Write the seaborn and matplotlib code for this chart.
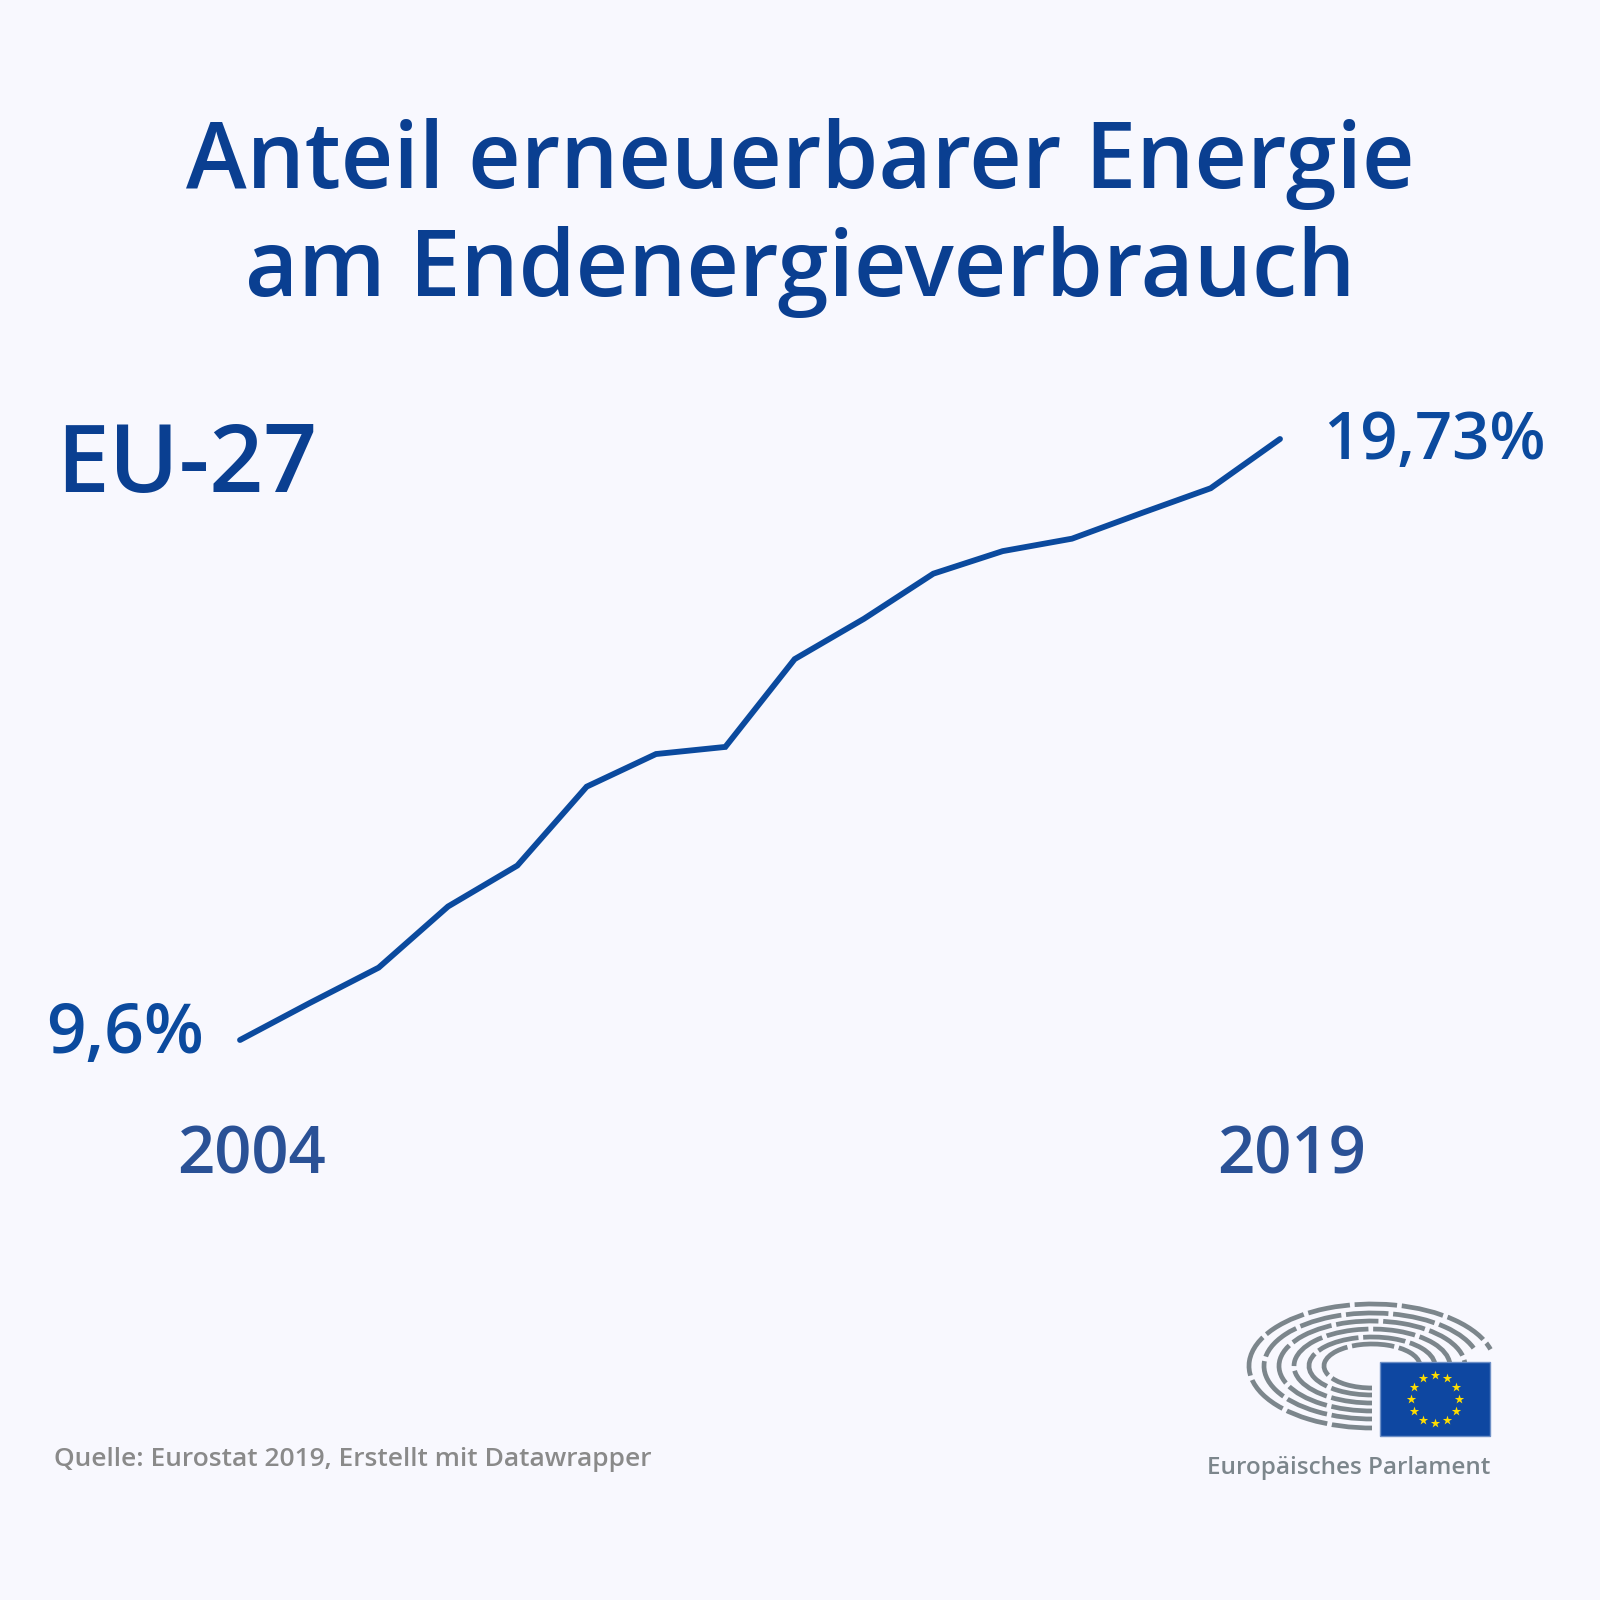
import numpy as np
import pandas as pd
import matplotlib
matplotlib.use('Agg')
import matplotlib.pyplot as plt
from matplotlib.patches import Arc, Rectangle
import seaborn as sns

# data
years = [2004, 2005, 2006, 2007, 2008, 2009, 2010, 2011,
         2012, 2013, 2014, 2015, 2016, 2017, 2018, 2019]
share = [9.6, 10.22, 10.82, 11.85, 12.54, 13.87, 14.42, 14.54,
         16.02, 16.70, 17.46, 17.84, 18.05, 18.48, 18.90, 19.73]
first_label = '9,6%'
last_label = '19,73%'
title_lines = ['Anteil erneuerbarer Energie', 'am Endenergieverbrauch']
region = 'EU-27'
source = 'Quelle: Eurostat 2019, Erstellt mit Datawrapper'
brand = 'Europäisches Parlament'

df = pd.DataFrame({'year': years, 'share': share})

bg = '#f8f8fe'
blue = '#0b4a9e'
title_blue = '#0a3f91'
year_blue = '#2a5196'
grey = '#8a8a8a'
logo_grey = '#7c868c'

sns.set_theme(style='white')
plt.rcParams['font.family'] = ['Open Sans', 'DejaVu Sans']

W = 1600
fig = plt.figure(figsize=(16, 16), dpi=100, facecolor=bg)


def fx(x):
    return x / W


def fy(y):
    return 1 - y / W


# main line axes: 2004 at x=240, 2019 at x=1280; 9.6 at y=1040, 19.73 at y=439
ax = fig.add_axes([fx(240), fy(1040), fx(1280 - 240), (1040 - 439) / W])
ax.set_facecolor('none')
sns.lineplot(data=df, x='year', y='share', ax=ax, color=blue, linewidth=4.2,
             solid_capstyle='round', solid_joinstyle='miter', clip_on=False)
ax.set_xlim(2004, 2019)
ax.set_ylim(9.6, 19.73)
ax.axis('off')

# titles
fw = 600
fig.text(fx(800), fy(188), title_lines[0], ha='center', va='baseline',
         fontsize=66, color=title_blue, fontweight=fw)
fig.text(fx(800), fy(296), title_lines[1], ha='center', va='baseline',
         fontsize=66, color=title_blue, fontweight=fw)
fig.text(fx(56), fy(492), region, ha='left', va='baseline',
         fontsize=68, color=title_blue, fontweight=fw)

# end labels
fig.text(fx(1323), fy(459), last_label, ha='left', va='baseline',
         fontsize=47, color=blue, fontweight=fw)
fig.text(fx(204), fy(1053), first_label, ha='right', va='baseline',
         fontsize=50, color=blue, fontweight=fw)
fig.text(fx(252), fy(1173), str(years[0]), ha='center', va='baseline',
         fontsize=47, color=year_blue, fontweight=fw)
fig.text(fx(1292), fy(1173), str(years[-1]), ha='center', va='baseline',
         fontsize=47, color=year_blue, fontweight=fw)

# footer
fig.text(fx(54), fy(1466), source, ha='left', va='baseline',
         fontsize=19, color=grey, fontweight=fw)
fig.text(fx(1490), fy(1474), brand, ha='right', va='baseline',
         fontsize=17.5, color=logo_grey, fontweight=fw)

# logo: hemicycle + flag
lax = fig.add_axes([fx(1230), fy(1450), fx(270), 160 / W])
lax.set_xlim(1230, 1500)
lax.set_ylim(1450, 1290)
lax.set_aspect('equal')
lax.axis('off')
cx, cy = 1372, 1366
rings = [(123, 62), (108, 53), (93, 45), (78, 37), (63, 29), (48, 22)]
for i, (rx, ry) in enumerate(rings):
    arc = Arc((cx, cy), 2 * rx, 2 * ry, theta1=88, theta2=352 if i < 2 else 358,
              color=logo_grey, lw=3.4, linestyle=(0, (9, 1.0)))
    lax.add_patch(arc)
lax.add_patch(Rectangle((1380, 1362), 110, 74, facecolor='#0e47a1',
                        edgecolor='#6d8fc6', lw=1, zorder=3))
lax.add_patch(Rectangle((1372, 1352), 8, 90, facecolor=bg, lw=0, zorder=2))
ang = np.linspace(0, 2 * np.pi, 12, endpoint=False)
lax.scatter(1435 + 24 * np.cos(ang), 1399 + 24 * np.sin(ang), marker='*',
            s=50, color='#ffdd00', linewidths=0, zorder=4)

fig.savefig('out.png', dpi=100, facecolor=bg)
